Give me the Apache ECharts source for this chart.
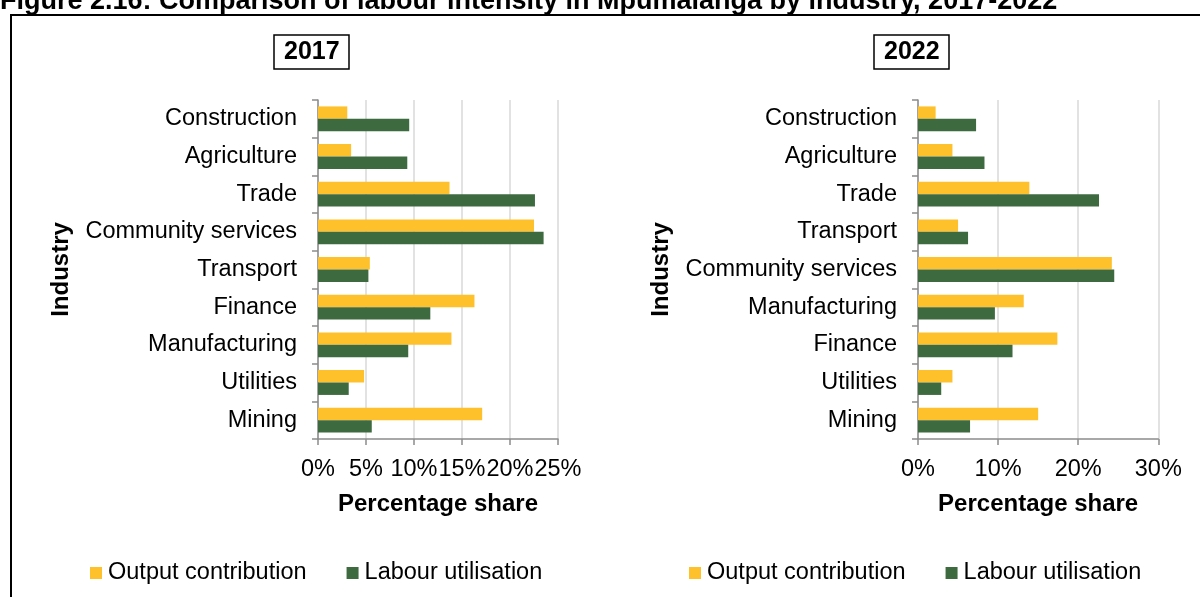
<!DOCTYPE html>
<html>
<head>
<meta charset="utf-8">
<script src="https://cdn.jsdelivr.net/npm/echarts@6/dist/echarts.min.js"></script>
<style>
  html, body { margin: 0; padding: 0; background: #fff; }
  #chart { width: 1200px; height: 597px; }
</style>
</head>
<body>
<div id="chart"></div>
<script>
// Figure caption and panel headings
const figureTitle = 'Figure 2.16: Comparison of labour intensity in Mpumalanga by industry, 2017-2022';
const panelYears = ['2017', '2022'];
const seriesNames = ['Output contribution', 'Labour utilisation'];

// 2017 panel (top to bottom), percentage share
const industries2017 = ['Construction', 'Agriculture', 'Trade', 'Community services', 'Transport',
  'Finance', 'Manufacturing', 'Utilities', 'Mining'];
const output2017 = [3.05, 3.45, 13.7, 22.5, 5.4, 16.3, 13.9, 4.8, 17.1];
const labour2017 = [9.5, 9.3, 22.6, 23.5, 5.25, 11.7, 9.4, 3.2, 5.6];
const ticks2017 = [0, 5, 10, 15, 20, 25];

// 2022 panel (top to bottom), percentage share
const industries2022 = ['Construction', 'Agriculture', 'Trade', 'Transport', 'Community services',
  'Manufacturing', 'Finance', 'Utilities', 'Mining'];
const output2022 = [2.2, 4.3, 13.9, 5.0, 24.2, 13.2, 17.4, 4.3, 15.0];
const labour2022 = [7.25, 8.3, 22.6, 6.25, 24.5, 9.6, 11.8, 2.9, 6.5];
const ticks2022 = [0, 10, 20, 30];

const FONT = '"Liberation Sans", Arial, sans-serif';
const YELLOW = '#FFC12B';
const GREEN = '#3E6A40';
const AXIS_GREY = '#8C8C8C';
const GRID_GREY = '#D9D9D9';
const TEXT_SIZE = 23.5;
const BOLD_SIZE = 24;

const chart = echarts.init(document.getElementById('chart'));

const grids = [
  { left: 318, top: 100, width: 240, height: 339 },
  { left: 918, top: 100, width: 240.3, height: 339 }
];

function xAxisFor(gridIndex, ticks) {
  return {
    type: 'value',
    gridIndex: gridIndex,
    min: ticks[0],
    max: ticks[ticks.length - 1],
    interval: ticks[1] - ticks[0],
    name: 'Percentage share',
    nameLocation: 'middle',
    nameGap: 53,
    nameTextStyle: { fontFamily: FONT, fontSize: BOLD_SIZE, fontWeight: 'bold', color: '#000' },
    axisLine: { show: true, lineStyle: { color: AXIS_GREY, width: 1.5 } },
    axisTick: { show: true, length: 6, lineStyle: { color: AXIS_GREY, width: 1.5 } },
    axisLabel: { formatter: '{value}%', margin: 19, fontFamily: FONT, fontSize: TEXT_SIZE, color: '#000' },
    splitLine: { show: true, lineStyle: { color: GRID_GREY, width: 1.5 } }
  };
}

function yAxisFor(gridIndex, cats) {
  return {
    type: 'category',
    gridIndex: gridIndex,
    data: cats,
    inverse: true,
    name: 'Industry',
    nameLocation: 'middle',
    nameGap: 245,
    nameTextStyle: { fontFamily: FONT, fontSize: BOLD_SIZE, fontWeight: 'bold', color: '#000' },
    axisLine: { show: true, lineStyle: { color: AXIS_GREY, width: 1.5 } },
    axisTick: { show: true, length: 6, lineStyle: { color: AXIS_GREY, width: 1.5 } },
    axisLabel: { margin: 21, padding: [4, 0, 0, 0], fontFamily: FONT, fontSize: TEXT_SIZE, color: '#000' },
    splitLine: { show: false }
  };
}

function barSeries(name, axisIndex, data, color) {
  return {
    type: 'bar',
    name: name,
    xAxisIndex: axisIndex,
    yAxisIndex: axisIndex,
    data: data,
    barGap: '0%',
    barCategoryGap: '34%',
    itemStyle: { color: color },
    emphasis: { disabled: true },
    animation: false
  };
}

function legendAt(left) {
  return {
    left: left,
    top: 561,
    orient: 'horizontal',
    padding: 0,
    itemGap: 40,
    itemWidth: 12,
    itemHeight: 12,
    icon: 'rect',
    selectedMode: false,
    data: seriesNames,
    textStyle: { fontFamily: FONT, fontSize: TEXT_SIZE, color: '#000', padding: [0, 0, 0, 1] }
  };
}

function yearBox(left, text) {
  return {
    text: text,
    left: left,
    top: 35,
    padding: [4, 10, 4, 10],
    borderColor: '#000',
    borderWidth: 1.5,
    textStyle: { fontFamily: FONT, fontSize: 25, fontWeight: 'bold', color: '#000', lineHeight: 26 }
  };
}

chart.setOption({
  backgroundColor: '#fff',
  animation: false,
  title: [yearBox(274, panelYears[0]), yearBox(874, panelYears[1])],
  legend: [legendAt(90), legendAt(689)],
  grid: grids,
  xAxis: [xAxisFor(0, ticks2017), xAxisFor(1, ticks2022)],
  yAxis: [yAxisFor(0, industries2017), yAxisFor(1, industries2022)],
  series: [
    barSeries(seriesNames[0], 0, output2017, YELLOW),
    barSeries(seriesNames[1], 0, labour2017, GREEN),
    barSeries(seriesNames[0], 1, output2022, YELLOW),
    barSeries(seriesNames[1], 1, labour2022, GREEN)
  ],
  graphic: [
    {
      type: 'text',
      x: 0,
      y: 2,
      silent: true,
      style: {
        text: figureTitle,
        font: 'bold 27px ' + FONT,
        fill: '#000',
        verticalAlign: 'middle'
      }
    },
    {
      type: 'rect',
      silent: true,
      shape: { x: 11, y: 15, width: 1250, height: 650 },
      style: { fill: 'none', stroke: '#000', lineWidth: 2 }
    }
  ]
});
</script>
</body>
</html>
